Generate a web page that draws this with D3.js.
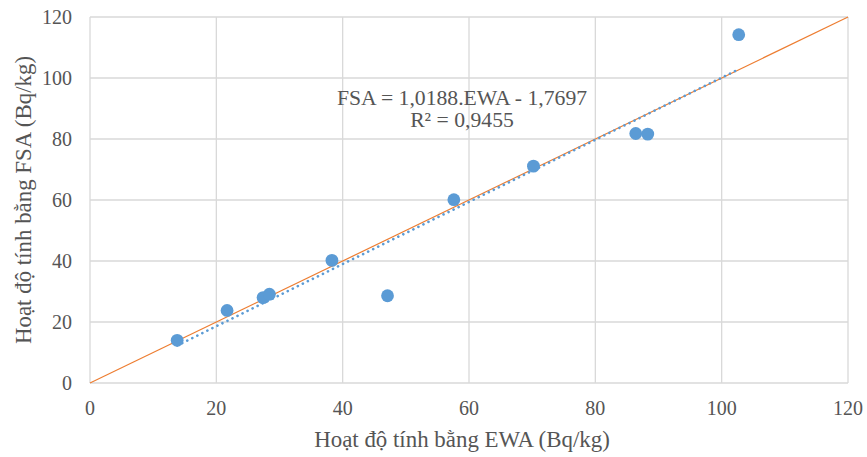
<!DOCTYPE html>
<html>
<head>
<meta charset="utf-8">
<script src="https://cdn.jsdelivr.net/npm/d3@7"></script>
<style>
  html, body { margin: 0; padding: 0; background: #fff; }
  text { font-family: "Liberation Serif", "Times New Roman", serif; fill: #555555; }
</style>
</head>
<body>
<div id="chart"></div>
<script>
// --- Datos ---
const ewaValues = [13.8, 21.7, 27.4, 28.4, 38.3, 47.1, 57.6, 70.2, 86.4, 88.3, 102.7];
const fsaValues = [14.0, 23.8, 28.0, 29.1, 40.2, 28.6, 60.1, 71.1, 81.8, 81.6, 114.2];
const xTicks = [0, 20, 40, 60, 80, 100, 120];
const yTicks = [0, 20, 40, 60, 80, 100, 120];
const slope = 1.0188;
const intercept = -1.7697;
const eqLines = ["FSA = 1,0188.EWA - 1,7697", "R² = 0,9455"];
const xTitle = "Hoạt độ tính bằng EWA (Bq/kg)";
const yTitle = "Hoạt độ tính bằng FSA (Bq/kg)";

const width = 867, height = 457;
const margin = { top: 17, right: 19, bottom: 74, left: 90 };

const svg = d3.select("#chart").append("svg")
    .attr("width", width)
    .attr("height", height);

const x = d3.scaleLinear().domain([0, 120]).range([margin.left, width - margin.right]);
const y = d3.scaleLinear().domain([0, 120]).range([height - margin.bottom, margin.top]);

// Rejilla
svg.append("g").selectAll("line")
    .data(xTicks)
    .enter().append("line")
    .attr("x1", d => x(d)).attr("x2", d => x(d))
    .attr("y1", y(0)).attr("y2", y(120))
    .style("stroke", "#d9d9d9")
    .style("stroke-width", "1.3px");

svg.append("g").selectAll("line")
    .data(yTicks)
    .enter().append("line")
    .attr("x1", x(0)).attr("x2", x(120))
    .attr("y1", d => y(d)).attr("y2", d => y(d))
    .style("stroke", "#d9d9d9")
    .style("stroke-width", "1.3px");

// Etiquetas de los ejes
svg.append("g").selectAll("text")
    .data(xTicks)
    .enter().append("text")
    .attr("x", d => x(d))
    .attr("y", y(0) + 32)
    .attr("text-anchor", "middle")
    .style("font-size", "20px")
    .text(d => d);

svg.append("g").selectAll("text")
    .data(yTicks)
    .enter().append("text")
    .attr("x", x(0) - 18)
    .attr("y", d => y(d) + 7)
    .attr("text-anchor", "end")
    .style("font-size", "20px")
    .text(d => d);

// Línea y = x
svg.append("line")
    .attr("x1", x(0)).attr("y1", y(0))
    .attr("x2", x(120)).attr("y2", y(120))
    .style("stroke", "#ed7d31")
    .style("stroke-width", "1.2px");

// Línea de tendencia
const xMin = d3.min(ewaValues), xMax = d3.max(ewaValues);
svg.append("line")
    .attr("x1", x(xMin)).attr("y1", y(slope * xMin + intercept))
    .attr("x2", x(xMax)).attr("y2", y(slope * xMax + intercept))
    .style("stroke", "#5b9bd5")
    .style("stroke-width", "2.6px")
    .style("stroke-dasharray", "0.1 5.5")
    .style("stroke-linecap", "round");

// Puntos
svg.append("g").selectAll("circle")
    .data(ewaValues.map((d, i) => [d, fsaValues[i]]))
    .enter().append("circle")
    .attr("cx", d => x(d[0]))
    .attr("cy", d => y(d[1]))
    .attr("r", 6.4)
    .style("fill", "#5b9bd5");

// Ecuación
svg.append("g").selectAll("text")
    .data(eqLines)
    .enter().append("text")
    .attr("x", 462)
    .attr("y", (d, i) => 105 + i * 22)
    .attr("text-anchor", "middle")
    .style("font-size", "21.7px")
    .text(d => d);

// Títulos
svg.append("text")
    .attr("x", 462)
    .attr("y", 447)
    .attr("text-anchor", "middle")
    .style("font-size", "22.9px")
    .text(xTitle);

svg.append("text")
    .attr("transform", `translate(31, ${(y(0) + y(120)) / 2}) rotate(-90)`)
    .attr("text-anchor", "middle")
    .style("font-size", "22.9px")
    .text(yTitle);
</script>
</body>
</html>
